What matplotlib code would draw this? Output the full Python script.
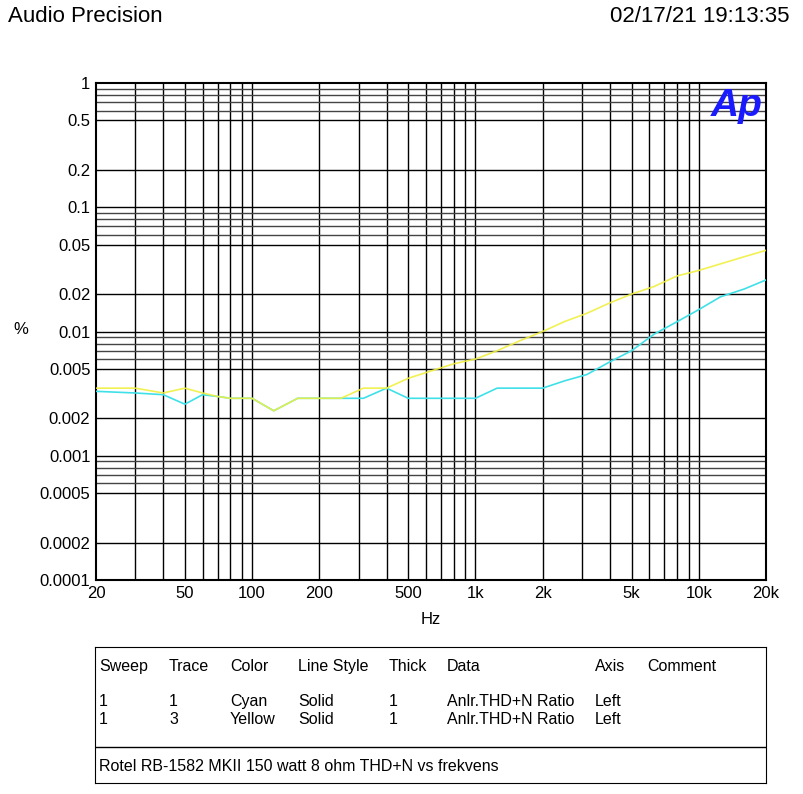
import matplotlib
matplotlib.use("Agg")
import matplotlib.pyplot as plt
import numpy as np
plt.rcParams["font.family"] = "Liberation Sans"

freq = [20,30,40,50,60,70,80,100,125,160,200,250,315,400,500,630,800,1000,1250,1600,2000,2500,3150,4000,5000,6300,8000,10000,12500,16000,20000]
cyan = [0.0033,0.0032,0.0031,0.0026,0.0031,0.003,0.0029,0.0029,0.0023,0.0029,0.0029,0.0029,0.0029,0.0035,0.0029,0.0029,0.0029,0.0029,0.0035,0.0035,0.0035,0.004,0.0045,0.0057,0.007,0.0095,0.012,0.015,0.019,0.022,0.026]
yellow = [0.0035,0.0035,0.0032,0.0035,0.0032,0.003,0.0029,0.0029,0.0023,0.0029,0.0029,0.0029,0.0035,0.0035,0.0042,0.0048,0.0055,0.006,0.007,0.0085,0.01,0.012,0.014,0.017,0.02,0.023,0.028,0.031,0.035,0.04,0.045]
xticks = [20,50,100,200,500,1000,2000,5000,10000,20000]
xlabels = ["20","50","100","200","500","1k","2k","5k","10k","20k"]
yticks = [1,0.5,0.2,0.1,0.05,0.02,0.01,0.005,0.002,0.001,0.0005,0.0002,0.0001]
ylabels = ["1","0.5","0.2","0.1","0.05","0.02","0.01","0.005","0.002","0.001","0.0005","0.0002","0.0001"]

W, H = 804, 794
fig = plt.figure(figsize=(W/100, H/100), dpi=100)
ax = fig.add_axes([96/W, 1-580/H, 670/W, 497/H])
ax.set_xscale("log"); ax.set_yscale("log")
ax.set_xlim(20, 20000); ax.set_ylim(0.0001, 1)
for d in [10,100,1000,10000]:
    for m in range(1,10):
        v = d*m
        if 20 < v < 20000:
            ax.axvline(v, color="black", lw=1.0, zorder=1)
for d in [0.0001,0.001,0.01,0.1]:
    for m in [2,5,6,7,8,9,10]:
        v = d*m
        if 0.0001 < v < 1:
            ax.axhline(v, color="black" if m in (2,5,10) else "#444444", lw=1.0, zorder=1)
ax.plot(freq, cyan, color="#40e0e8", lw=1.2, zorder=3)
ax.plot(freq, yellow, color="#f0f040", lw=1.2, zorder=4, alpha=0.9)
ax.set_xticks(xticks); ax.set_xticklabels(xlabels)
ax.set_yticks(yticks); ax.set_yticklabels(ylabels)
ax.minorticks_off()
ax.tick_params(labelsize=12, length=0, pad=4)
for s in ax.spines.values():
    s.set_linewidth(1.5)
ax.set_xlabel("Hz", fontsize=12, labelpad=8)
fig.text(13/W, 1-330/H, "%", fontsize=12, va="center")
fig.text(8/W, 1-16/H, "Audio Precision", fontsize=16, va="center")
fig.text(790/W, 1-16/H, "02/17/21 19:13:35", fontsize=16, va="center", ha="right")
ax.text(0.995, 0.99, "Ap", transform=ax.transAxes, fontsize=28, color="#1a1aff",
        fontweight="bold", style="italic", ha="right", va="top")

tab = fig.add_axes([95/W, 1-783/H, 671/W, 136/H])
tab.set_xlim(95, 766); tab.set_ylim(783, 647)
tab.set_xticks([]); tab.set_yticks([])
tab.axhline(747, color="black", lw=1)
cols = [(99,"Sweep"),(169,"Trace"),(230,"Color"),(298,"Line Style"),(389,"Thick"),(447,"Data"),(595,"Axis"),(647,"Comment")]
for x, t in cols:
    tab.text(x, 666, t, fontsize=11.5, va="center")
rows = [["1","1","Cyan","Solid","1","Anlr.THD+N Ratio","Left"],["1","3","Yellow","Solid","1","Anlr.THD+N Ratio","Left"]]
for r, yy in zip(rows, [701, 719]):
    for (x, _), t in zip(cols, r):
        tab.text(x, yy, t, fontsize=11.5, va="center")
tab.text(99, 766, "Rotel RB-1582 MKII 150 watt 8 ohm THD+N vs frekvens", fontsize=11.5, va="center")
fig.savefig("out.png", dpi=100)
